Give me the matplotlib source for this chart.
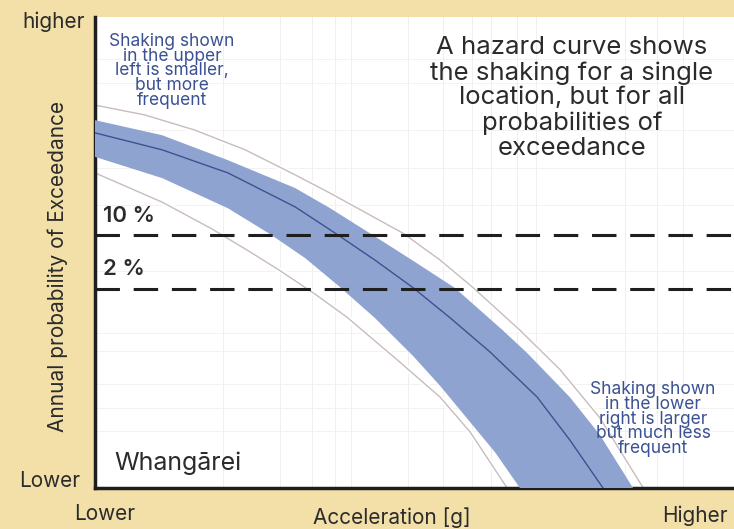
import numpy as np
import matplotlib
matplotlib.use('Agg')
import matplotlib.pyplot as plt

plt.rcParams['font.family'] = ['Inter', 'DejaVu Sans']

# 数据（相对单位 0-100，从图中读取）
x_center = [0, 10.5, 20.8, 31.3, 37.6, 43.8, 49.8, 55.6, 61.8, 69.2, 74.3, 79.5]
y_center = [75.4, 71.8, 66.9, 59.7, 54.1, 48.4, 42.5, 36.1, 28.9, 19.3, 10.2, 0]

x_band_top = [0, 10.5, 20.8, 31.3, 36.8, 43.0, 49.6, 56.3, 63.8, 67.6, 74.3, 79.0, 84.2]
y_band_top = [78.1, 74.9, 69.6, 63.7, 59.4, 54.1, 48.4, 42.5, 33.5, 28.7, 19.3, 11.3, 0]

x_band_bot = [0, 10.5, 20.8, 27.4, 32.9, 38.3, 43.8, 49.8, 54.0, 58.7, 62.6, 66.5]
y_band_bot = [70.3, 65.8, 59.4, 53.9, 48.8, 42.7, 36.1, 28.0, 21.7, 14.0, 7.6, 0]

x_upper = [0, 7.8, 15.6, 23.5, 31.3, 36.8, 48.2, 54.0, 59.2, 66.5, 72.8, 79.0, 85.8]
y_upper = [81.3, 79.2, 76.0, 71.8, 66.5, 62.6, 54.1, 48.4, 42.5, 33.5, 25.1, 14.9, 0]

x_lower = [0, 10.5, 18.3, 24.3, 29.0, 34.4, 39.4, 47.3, 54.0, 58.7, 64.5]
y_lower = [66.9, 60.7, 55.0, 50.1, 46.1, 41.2, 36.3, 27.2, 19.3, 11.9, 0]

poe_levels = [53.7, 42.3]
poe_labels = ['10 %', '2 %']

bg = '#f3dfa8'
txt = '#2b2b2b'
blue_txt = '#3a5192'

fig = plt.figure(figsize=(7.34, 5.29), dpi=100, facecolor=bg)
ax = fig.add_axes([95/734, 41/529, 639/734, 471/529])
ax.set_facecolor('white')
ax.set_xlim(0, 100)
ax.set_ylim(0, 100)

# 淡网格
for gx in [20, 29, 34, 37.5, 40, 49, 54.5, 59, 62, 66, 69, 83, 88, 92]:
    ax.axvline(gx, color='#efefef', lw=0.7, zorder=0)
for gy in [12, 17, 22, 29, 33, 46, 60, 68, 76, 86, 91]:
    ax.axhline(gy, color='#f2f2f2', lw=0.7, zorder=0)

# 外侧灰线（带白边）
for xs, ys in [(x_upper, y_upper), (x_lower, y_lower)]:
    ax.plot(xs, ys, color='white', lw=4, zorder=1, solid_capstyle='butt')
    ax.plot(xs, ys, color='#c9bcbc', lw=1.0, zorder=2)

# 不确定性带
ax.fill(x_band_top + x_band_bot[::-1], y_band_top + y_band_bot[::-1],
        color='#8fa3d1', lw=0, zorder=3)
ax.plot(x_center, y_center, color='#3f5190', lw=1.0, zorder=4)

# 10% / 2% 虚线
for lvl, lab in zip(poe_levels, poe_labels):
    ax.axhline(lvl, color='#1e1e1e', lw=2.2, dashes=(8, 4.5), zorder=5)
    ax.text(1.3, lvl + 2.0, lab, fontsize=16, fontweight='semibold', color=txt,
            ha='left', va='bottom', zorder=6)

ax.set_xticks([])
ax.set_yticks([])
for s in ['top', 'right']:
    ax.spines[s].set_visible(False)
for s in ['left', 'bottom']:
    ax.spines[s].set_linewidth(2.5)
    ax.spines[s].set_color('#1e1e1e')

# 轴标签
fig.text(85/734, 1 - 22/529, 'higher', fontsize=15, color=txt, ha='right', va='center')
fig.text(80/734, 1 - 481/529, 'Lower', fontsize=15, color=txt, ha='right', va='center')
fig.text(105/734, 1 - 514/529, 'Lower', fontsize=15, color=txt, ha='center', va='center')
fig.text(728/734, 1 - 516/529, 'Higher', fontsize=15, color=txt, ha='right', va='center')
fig.text(392/734, 1 - 518/529, 'Acceleration [g]', fontsize=15, color=txt, ha='center', va='center')
fig.text(58/734, 1 - 266/529, 'Annual probability of Exceedance', fontsize=15, color=txt,
         ha='center', va='center', rotation=90)

ax.text(3, 5.3, 'Whangārei', fontsize=18, color=txt, ha='left', va='center')

fig.text(572/734, 1 - 98/529, 'A hazard curve shows\nthe shaking for a single\nlocation, but for all\nprobabilities of\nexceedance',
         fontsize=18.5, color=txt, ha='center', va='center', linespacing=1.1)
fig.text(172/734, 1 - 71/529, 'Shaking shown\nin the upper\nleft is smaller,\nbut more\nfrequent',
         fontsize=12.5, color=blue_txt, ha='center', va='center', linespacing=0.84)
fig.text(653/734, 1 - 419/529, 'Shaking shown\nin the lower\nright is larger\nbut much less\nfrequent',
         fontsize=12.5, color=blue_txt, ha='center', va='center', linespacing=0.84)

fig.savefig('out.png', dpi=100, facecolor=bg)
